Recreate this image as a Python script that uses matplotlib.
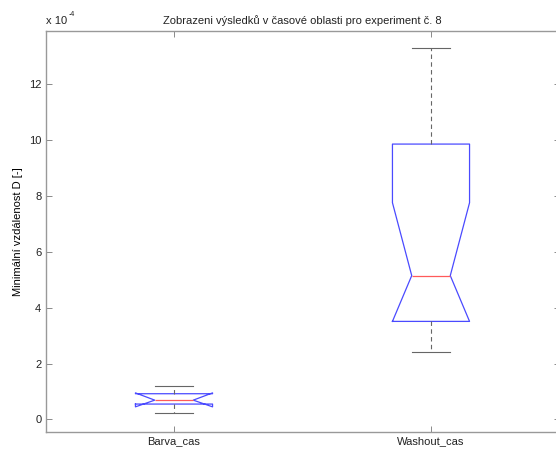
import matplotlib
matplotlib.use("Agg")
from matplotlib import pyplot as plt
from matplotlib.ticker import FuncFormatter

plt.rcParams['font.family'] = ['Liberation Sans', 'DejaVu Sans']
plt.rcParams['text.color'] = '#222222'

# statistiky boxplotu pro obe skupiny
skupiny = ['Barva_cas', 'Washout_cas']
dolni_vous = [0.24e-4, 2.40e-4]
q1 = [0.55e-4, 3.51e-4]
median = [0.69e-4, 5.15e-4]
q3 = [0.92e-4, 9.86e-4]
horni_vous = [1.19e-4, 13.30e-4]
notch_dole = [0.45e-4, 3.51e-4]
notch_nahore = [0.95e-4, 7.76e-4]

stats = []
for i, nazev in enumerate(skupiny):
    stats.append(dict(label=nazev, whislo=dolni_vous[i], q1=q1[i], med=median[i],
                      q3=q3[i], whishi=horni_vous[i], cilo=notch_dole[i],
                      cihi=notch_nahore[i], fliers=[]))

fig = plt.figure(figsize=(5.56, 4.5), dpi=100)
ax = fig.add_axes([45.5 / 556, 1 - 431.7 / 450, 514 / 556, 401 / 450])

ax.bxp(stats, positions=[1, 2], widths=0.3, shownotches=True, showfliers=False,
       boxprops=dict(color='#4a4aff', linewidth=0.9),
       medianprops=dict(color='#ff5a5a', linewidth=0.9),
       whiskerprops=dict(color='#666666', linestyle=(0, (4, 3)), linewidth=0.8),
       capprops=dict(color='#666666', linewidth=0.8))

ax.set_xlim(0.5, 2.5)
ax.set_ylim(-0.44e-4, 13.92e-4)
ax.set_yticks([i * 1e-4 for i in range(0, 13, 2)])
ax.yaxis.set_major_formatter(FuncFormatter(lambda v, p: '%g' % round(v / 1e-4, 6)))

for s in ax.spines.values():
    s.set_color('#999999')
    s.set_linewidth(1.0)
ax.tick_params(direction='in', length=4, width=0.6, color='#777777',
               labelcolor='#222222', labelsize=8, top=True, right=True, pad=3)

ax.set_title('Zobrazeni výsledků v časové oblasti pro experiment č. 8', fontsize=8, pad=5)
ax.set_ylabel('Minimální vzdálenost D [-]', fontsize=8, labelpad=4)
ax.text(0.0, 1.012, 'x 10', transform=ax.transAxes, fontsize=8,
        ha='left', va='bottom')
ax.text(0.045, 1.032, '-4', transform=ax.transAxes, fontsize=5,
        ha='left', va='bottom')

fig.savefig('out.png', dpi=100)
